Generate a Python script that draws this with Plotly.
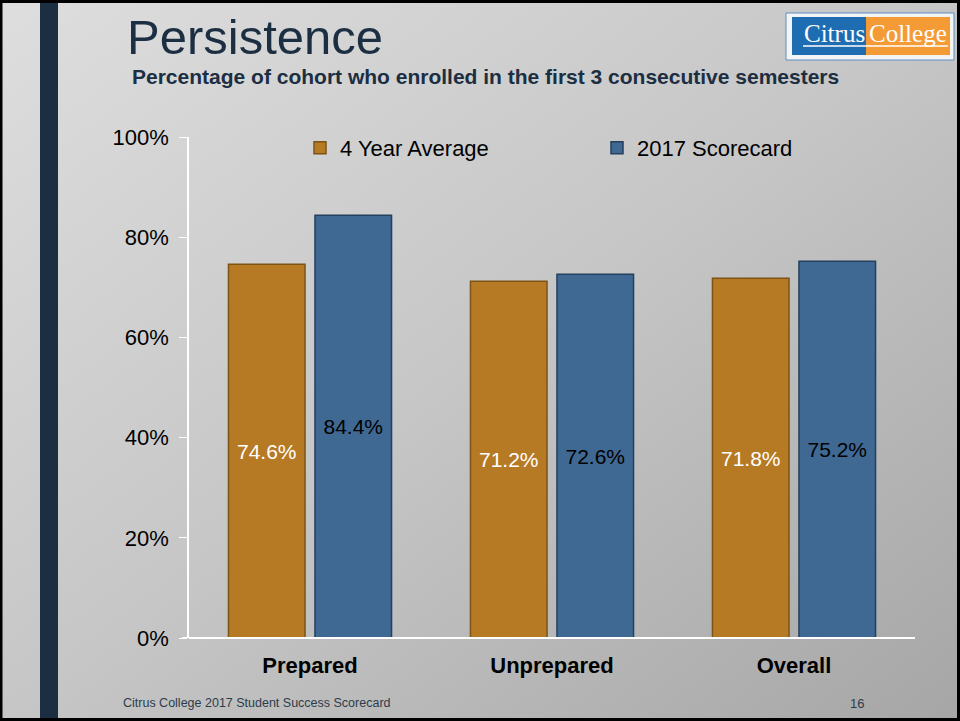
import base64
import plotly.graph_objects as go

# data
categories = ["Prepared", "Unprepared", "Overall"]
series_names = ["4 Year Average", "2017 Scorecard"]
four_year_avg = [74.6, 71.2, 71.8]
scorecard_2017 = [84.4, 72.6, 75.2]
y_ticks = [0, 20, 40, 60, 80, 100]
y_tick_labels = [f"{v}%" for v in y_ticks]

W, H = 960, 721
M_L, M_R, M_T, M_B = 189, 45, 137, 83
PW, PH = W - M_L - M_R, H - M_T - M_B

ORANGE = "#b67a24"
ORANGE_EDGE = "#7d5415"
BLUE = "#3f6993"
BLUE_EDGE = "#23405e"
NAVY = "#1c2e42"


def px(x):
    """figure pixel x -> paper coordinate"""
    return (x - M_L) / PW


def py(y):
    """figure pixel y (from top) -> paper coordinate"""
    return (H - M_B - y) / PH


# slide background gradient as an inline svg
svg = (
    '<svg xmlns="http://www.w3.org/2000/svg" width="960" height="721" preserveAspectRatio="none">'
    '<defs><linearGradient id="g" x1="0" y1="0" x2="1" y2="1">'
    '<stop offset="0" stop-color="#dedede"/><stop offset="0.5" stop-color="#c6c6c6"/>'
    '<stop offset="1" stop-color="#a6a6a6"/></linearGradient></defs>'
    '<rect width="960" height="721" fill="url(#g)"/></svg>'
)
bg_src = "data:image/svg+xml;base64," + base64.b64encode(svg.encode()).decode()

fig = go.Figure()

fig.add_trace(
    go.Bar(
        name=series_names[0],
        x=categories,
        y=four_year_avg,
        marker=dict(color=ORANGE, line=dict(color=ORANGE_EDGE, width=1.5)),
        texttemplate="%{y:.1f}%",
        textposition="inside",
        insidetextanchor="middle",
        textangle=0,
        textfont=dict(family="Liberation Sans, Arial", size=21, color="white"),
        hoverinfo="x+y",
    )
)
fig.add_trace(
    go.Bar(
        name=series_names[1],
        x=categories,
        y=scorecard_2017,
        marker=dict(color=BLUE, line=dict(color=BLUE_EDGE, width=1.5)),
        texttemplate="%{y:.1f}%",
        textposition="inside",
        insidetextanchor="middle",
        textangle=0,
        textfont=dict(family="Liberation Sans, Arial", size=21, color="black"),
        hoverinfo="x+y",
    )
)

P = dict(xref="paper", yref="paper")

shapes = [
    # dark band on the left of the slide
    dict(type="rect", **P, x0=px(40), x1=px(58), y0=py(0), y1=py(H),
         fillcolor=NAVY, line_width=0, layer="below"),
    # slide frame
    dict(type="rect", **P, x0=px(1), x1=px(W - 1.5), y0=py(1.5), y1=py(H - 1.5),
         line=dict(color="black", width=3)),
    # logo
    dict(type="rect", **P, x0=px(786), x1=px(954), y0=py(13), y1=py(60),
         fillcolor="#f4f4f4", line=dict(color="#5b8fc4", width=1)),
    dict(type="rect", **P, x0=px(792), x1=px(866), y0=py(17), y1=py(55),
         fillcolor="#1e6db3", line_width=0),
    dict(type="rect", **P, x0=px(866), x1=px(950), y0=py(17), y1=py(55),
         fillcolor="#f59b35", line_width=0),
    dict(type="line", **P, x0=px(803), x1=px(948), y0=py(46), y1=py(46),
         line=dict(color="white", width=1.5)),
]

annotations = [
    dict(text="Persistence", **P, x=px(125), y=py(37), xanchor="left", yanchor="middle",
         showarrow=False, font=dict(family="Liberation Sans, Arial", size=49, color=NAVY)),
    dict(text="Percentage of cohort who enrolled in the first 3 consecutive semesters",
         **P, x=px(130), y=py(77), xanchor="left", yanchor="middle", showarrow=False,
         font=dict(family="Liberation Sans, Arial", size=21, color=NAVY, weight="bold")),
    dict(text="Citrus", **P, x=px(834), y=py(33), xanchor="center", yanchor="middle",
         showarrow=False, font=dict(family="Liberation Serif, serif", size=25, color="white")),
    dict(text="College", **P, x=px(908), y=py(33), xanchor="center", yanchor="middle",
         showarrow=False, font=dict(family="Liberation Serif, serif", size=25, color="white")),
    dict(text="Citrus College 2017 Student Success Scorecard", **P, x=px(121), y=py(703),
         xanchor="left", yanchor="middle", showarrow=False,
         font=dict(family="Liberation Sans Narrow, Arial Narrow, Liberation Sans", size=12.5,
                   color="#2c3c4c")),
    dict(text="16", **P, x=px(857), y=py(703), xanchor="center", yanchor="middle", showarrow=False,
         font=dict(family="Liberation Sans, Arial", size=13, color="#2c3c4c")),
]

fig.update_layout(
    width=W,
    height=H,
    margin=dict(l=M_L, r=M_R, t=M_T, b=M_B, autoexpand=False),
    paper_bgcolor="#c4c4c4",
    plot_bgcolor="rgba(0,0,0,0)",
    barmode="group",
    bargap=0.285,
    bargroupgap=0.115,
    showlegend=True,
    legend=dict(
        orientation="h",
        x=px(300),
        y=py(148),
        xanchor="left",
        yanchor="middle",
        bgcolor="rgba(0,0,0,0)",
        entrywidth=252,
        entrywidthmode="pixels",
        font=dict(family="Liberation Sans, Arial", size=22, color="black"),
    ),
    xaxis=dict(
        showgrid=False,
        showline=False,
        ticks="",
        ticklabelstandoff=12,
        tickfont=dict(family="Liberation Sans Narrow, Arial Narrow, Liberation Sans", size=22,
                      color="black", weight="bold"),
    ),
    yaxis=dict(
        range=[0, 100],
        tickvals=y_ticks,
        ticktext=y_tick_labels,
        showgrid=False,
        zeroline=True,
        zerolinecolor="white",
        zerolinewidth=2,
        showline=True,
        linecolor="white",
        linewidth=1.5,
        ticks="outside",
        ticklen=8,
        tickcolor="white",
        ticklabelstandoff=6,
        tickfont=dict(family="Liberation Sans, Arial", size=22, color="black"),
    ),
    images=[
        dict(source=bg_src, xref="paper", yref="paper", x=px(0), y=py(0), sizex=W / PW, sizey=H / PH,
             xanchor="left", yanchor="top", sizing="stretch", layer="below"),
    ],
    shapes=shapes,
    annotations=annotations,
)
# extend baseline across the whole plot width
fig.add_shape(type="line", xref="paper", yref="y", x0=px(182), x1=1, y0=0, y1=0,
              line=dict(color="white", width=2))

# drop the default page margin so the slide sits at the window origin
fig.write_html("out.html", config={"displayModeBar": False},
               post_script="document.body.style.margin='0';")
